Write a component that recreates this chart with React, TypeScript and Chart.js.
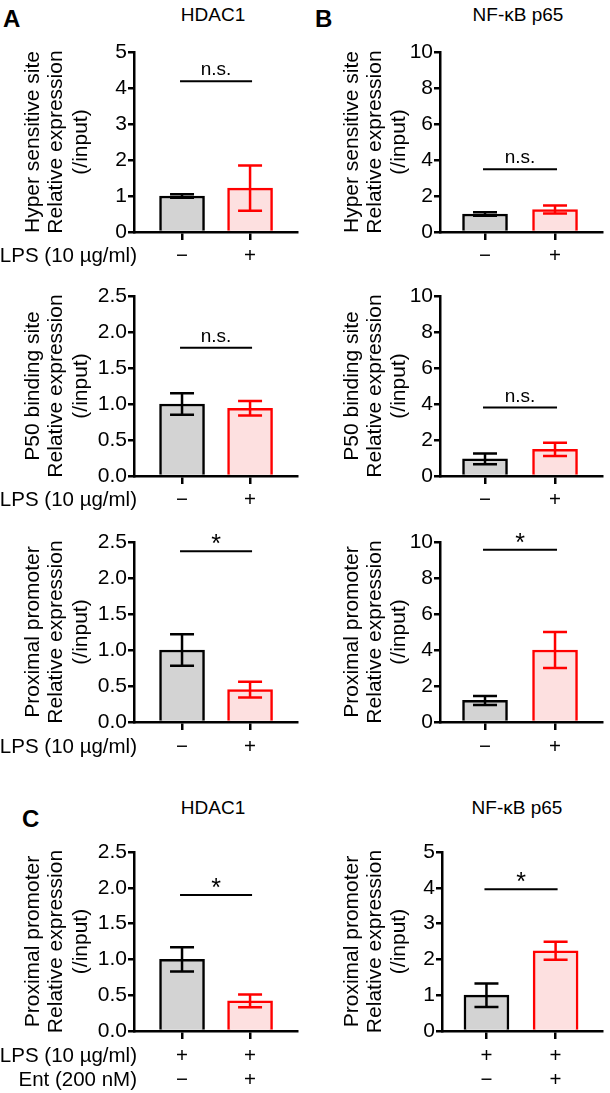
import React, { useEffect, useRef } from 'react';
import { Chart, registerables } from 'chart.js';
Chart.register(...registerables);

const FONT = "'Liberation Sans', Arial, Helvetica, sans-serif";

// ---------- data ----------
const lpsOnlyLabels = ['−', '+'];
const cLpsLabels = ['+', '+'];
const cEntLabels = ['−', '+'];

const hdacHyperMeans = [1.0, 1.22];
const hdacHyperErrs = [0.05, 0.63];
const hdacP50Means = [1.0, 0.94];
const hdacP50Errs = [0.15, 0.1];
const hdacProxMeans = [1.0, 0.45];
const hdacProxErrs = [0.22, 0.11];

const p65HyperMeans = [1.0, 1.25];
const p65HyperErrs = [0.1, 0.22];
const p65P50Means = [0.95, 1.48];
const p65P50Errs = [0.3, 0.37];
const p65ProxMeans = [1.2, 4.0];
const p65ProxErrs = [0.25, 1.0];

const entHdacMeans = [1.0, 0.42];
const entHdacErrs = [0.17, 0.09];
const entP65Means = [1.0, 2.24];
const entP65Errs = [0.33, 0.25];

const sigHeights = [4.19, 1.78, 2.37, 3.48, 3.8, 9.57, 1.9, 3.96];
const sigTexts = ['n.s.', 'n.s.', '*', 'n.s.', 'n.s.', '*', '*', '*'];

const hyperTitle = ['Hyper sensitive site', 'Relative expression', '(/input)'];
const p50Title = ['P50 binding site', 'Relative expression', '(/input)'];
const proxTitle = ['Proximal promoter', 'Relative expression', '(/input)'];

const fills = ['#d3d3d3', '#fde0e0'];
const strokes = ['#000000', '#ff0000'];

type Row = { y: number; labels: string[]; name?: string };
type PanelProps = {
  left: number; top: number; width: number; height: number;
  axisX: number; plotRight: number; plotTop: number; zeroY: number;
  xMin: number; xMax: number;
  yMax: number; yStep: number; decimals: number;
  means: number[]; errs: number[];
  sigY: number; sigText: string;
  titleLines: string[]; titleXs: number[];
  rows: Row[];
};

function Panel(p: PanelProps) {
  const ref = useRef<HTMLCanvasElement | null>(null);
  useEffect(() => {
    if (!ref.current) return;
    const overlay = {
      id: 'overlay',
      afterDatasetsDraw(chart: any) {
        const ctx = chart.ctx;
        const ys = chart.scales.y;
        const meta = chart.getDatasetMeta(0);
        ctx.save();
        // error bars
        meta.data.forEach((bar: any, i: number) => {
          const x = bar.x;
          const yT = ys.getPixelForValue(p.means[i] + p.errs[i]);
          const yB = ys.getPixelForValue(Math.max(0, p.means[i] - p.errs[i]));
          ctx.strokeStyle = strokes[i];
          ctx.lineWidth = 2.5;
          ctx.lineCap = 'butt';
          ctx.beginPath();
          ctx.moveTo(x, yT); ctx.lineTo(x, yB);
          ctx.moveTo(x - 12, yT); ctx.lineTo(x + 12, yT);
          ctx.moveTo(x - 12, yB); ctx.lineTo(x + 12, yB);
          ctx.stroke();
        });
        // significance
        const x0 = meta.data[0].x, x1 = meta.data[1].x;
        const sy = ys.getPixelForValue(p.sigY);
        ctx.strokeStyle = '#000';
        ctx.lineWidth = 2;
        ctx.beginPath();
        ctx.moveTo(x0 - 2, sy); ctx.lineTo(x1 + 2, sy);
        ctx.stroke();
        ctx.fillStyle = '#000';
        ctx.textAlign = 'center';
        ctx.textBaseline = 'alphabetic';
        if (p.sigText === '*') {
          ctx.font = `25px ${FONT}`;
          ctx.fillText('*', (x0 + x1) / 2, sy + 1);
        } else {
          ctx.font = `19px ${FONT}`;
          ctx.fillText(p.sigText, (x0 + x1) / 2, sy - 6);
        }
        // x labels & row names
        ctx.textBaseline = 'middle';
        ctx.font = `20.5px ${FONT}`;
        p.rows.forEach((r) => {
          r.labels.forEach((lab, i) => {
            ctx.textAlign = 'center';
            ctx.fillText(lab, meta.data[i].x, r.y - p.top);
          });
          if (r.name) {
            ctx.textAlign = 'right';
            ctx.fillText(r.name, 137 - p.left, r.y - p.top);
          }
        });
        // y title
        const cy = (chart.chartArea.top + chart.chartArea.bottom) / 2;
        ctx.font = `21px ${FONT}`;
        p.titleLines.forEach((t, i) => {
          ctx.save();
          ctx.translate(p.titleXs[i] - p.left, cy);
          ctx.rotate(-Math.PI / 2);
          ctx.textAlign = 'center';
          ctx.textBaseline = 'middle';
          ctx.fillText(t, 0, 0);
          ctx.restore();
        });
        ctx.restore();
      },
    };
    const chart = new Chart(ref.current, {
      type: 'bar',
      data: {
        datasets: [
          {
            data: p.means.map((m, i) => ({ x: i, y: m })),
            backgroundColor: fills,
            borderColor: strokes,
            borderWidth: 2.5,
            barThickness: 45,
            borderSkipped: 'bottom',
          } as any,
        ],
      },
      options: {
        animation: false,
        responsive: false,
        maintainAspectRatio: false,
        devicePixelRatio: 1,
        events: [],
        layout: {
          padding: {
            left: 0,
            right: p.left + p.width - p.plotRight,
            top: p.plotTop - p.top,
            bottom: 0,
          },
        },
        plugins: { legend: { display: false }, tooltip: { enabled: false }, title: { display: false } },
        scales: {
          x: {
            type: 'linear',
            min: p.xMin,
            max: p.xMax,
            offset: false,
            z: 1,
            afterBuildTicks: (s: any) => {
              s.ticks = [{ value: 0 }, { value: 1 }];
            },
            ticks: { display: false },
            grid: {
              display: true,
              drawOnChartArea: false,
              drawTicks: true,
              tickLength: 8,
              color: '#000',
              lineWidth: 2.5,
              offset: false,
            },
            border: { display: true, color: '#000', width: 2.5 },
            afterFit: (s: any) => {
              s.height = p.top + p.height - p.zeroY;
            },
          } as any,
          y: {
            min: 0,
            max: p.yMax,
            ticks: {
              stepSize: p.yStep,
              color: '#000',
              font: { family: FONT, size: 21 },
              padding: 1,
              callback: (v: any) => Number(v).toFixed(p.decimals),
            },
            grid: {
              drawOnChartArea: false,
              drawTicks: true,
              tickLength: 6,
              color: '#000',
              lineWidth: 2.5,
            },
            border: { display: true, color: '#000', width: 2.5 },
            afterFit: (s: any) => {
              s.width = p.axisX - p.left;
            },
          } as any,
        },
      },
      plugins: [overlay],
    });
    return () => chart.destroy();
  }, []);
  return (
    <canvas
      ref={ref}
      width={p.width}
      height={p.height}
      style={{ position: 'absolute', left: p.left, top: p.top, width: p.width, height: p.height, display: 'block' }}
    />
  );
}

const L = { left: 0, width: 305, axisX: 134, plotRight: 297, xMin: -0.706, xMax: 1.69, titleXs: [33, 56, 81] };
const R = { left: 305, width: 305, axisX: 440, plotRight: 602, xMin: -0.643, xMax: 1.671, titleXs: [352, 375, 399] };

const row1 = { top: 30, height: 240, plotTop: 52, zeroY: 232 };
const row2 = { top: 275, height: 240, plotTop: 296, zeroY: 476 };
const row3 = { top: 520, height: 245, plotTop: 542, zeroY: 722 };
const row4 = { top: 830, height: 263, plotTop: 852, zeroY: 1031 };

const LPS_NAME = 'LPS (10 µg/ml)';

const textStyle: React.CSSProperties = {
  position: 'absolute',
  fontFamily: FONT,
  fontSize: 19,
  color: '#000',
  lineHeight: '20px',
  whiteSpace: 'nowrap',
};

const letterStyle: React.CSSProperties = { ...textStyle, fontSize: 24, fontWeight: 'bold', lineHeight: '24px' };

export default function App() {
  return (
    <div style={{ position: 'absolute', left: 0, top: 0, width: 610, height: 1093, background: '#fff', overflow: 'hidden' }}>
      <div style={{ ...letterStyle, left: 3, top: 7 }}>A</div>
      <div style={{ ...letterStyle, left: 315, top: 7 }}>B</div>
      <div style={{ ...letterStyle, left: 22, top: 807 }}>C</div>
      <div style={{ ...textStyle, left: 113, width: 200, top: 5, textAlign: 'center' }}>HDAC1</div>
      <div style={{ ...textStyle, left: 418, width: 200, top: 5, textAlign: 'center' }}>NF-κB p65</div>
      <div style={{ ...textStyle, left: 113, width: 200, top: 798, textAlign: 'center' }}>HDAC1</div>
      <div style={{ ...textStyle, left: 417, width: 200, top: 798, textAlign: 'center' }}>NF-κB p65</div>

      <Panel {...L} {...row1} yMax={5} yStep={1} decimals={0} means={hdacHyperMeans} errs={hdacHyperErrs}
        sigY={sigHeights[0]} sigText={sigTexts[0]} titleLines={hyperTitle}
        rows={[{ y: 256, labels: lpsOnlyLabels, name: LPS_NAME }]} />
      <Panel {...L} {...row2} yMax={2.5} yStep={0.5} decimals={1} means={hdacP50Means} errs={hdacP50Errs}
        sigY={sigHeights[1]} sigText={sigTexts[1]} titleLines={p50Title}
        rows={[{ y: 500, labels: lpsOnlyLabels, name: LPS_NAME }]} />
      <Panel {...L} {...row3} yMax={2.5} yStep={0.5} decimals={1} means={hdacProxMeans} errs={hdacProxErrs}
        sigY={sigHeights[2]} sigText={sigTexts[2]} titleLines={proxTitle}
        rows={[{ y: 747, labels: lpsOnlyLabels, name: LPS_NAME }]} />

      <Panel {...R} {...row1} yMax={10} yStep={2} decimals={0} means={p65HyperMeans} errs={p65HyperErrs}
        sigY={sigHeights[3]} sigText={sigTexts[3]} titleLines={hyperTitle}
        rows={[{ y: 256, labels: lpsOnlyLabels }]} />
      <Panel {...R} {...row2} yMax={10} yStep={2} decimals={0} means={p65P50Means} errs={p65P50Errs}
        sigY={sigHeights[4]} sigText={sigTexts[4]} titleLines={p50Title}
        rows={[{ y: 500, labels: lpsOnlyLabels }]} />
      <Panel {...R} {...row3} yMax={10} yStep={2} decimals={0} means={p65ProxMeans} errs={p65ProxErrs}
        sigY={sigHeights[5]} sigText={sigTexts[5]} titleLines={proxTitle}
        rows={[{ y: 747, labels: lpsOnlyLabels }]} />

      <Panel {...L} {...row4} yMax={2.5} yStep={0.5} decimals={1} means={entHdacMeans} errs={entHdacErrs}
        sigY={sigHeights[6]} sigText={sigTexts[6]} titleLines={proxTitle}
        rows={[{ y: 1056, labels: cLpsLabels, name: LPS_NAME }, { y: 1080, labels: cEntLabels, name: 'Ent (200 nM)' }]} />
      <Panel {...R} {...row4} axisX={442} yMax={5} yStep={1} decimals={0} means={entP65Means} errs={entP65Errs}
        sigY={sigHeights[7]} sigText={sigTexts[7]} titleLines={proxTitle}
        rows={[{ y: 1056, labels: cLpsLabels }, { y: 1080, labels: cEntLabels }]} />
    </div>
  );
}
